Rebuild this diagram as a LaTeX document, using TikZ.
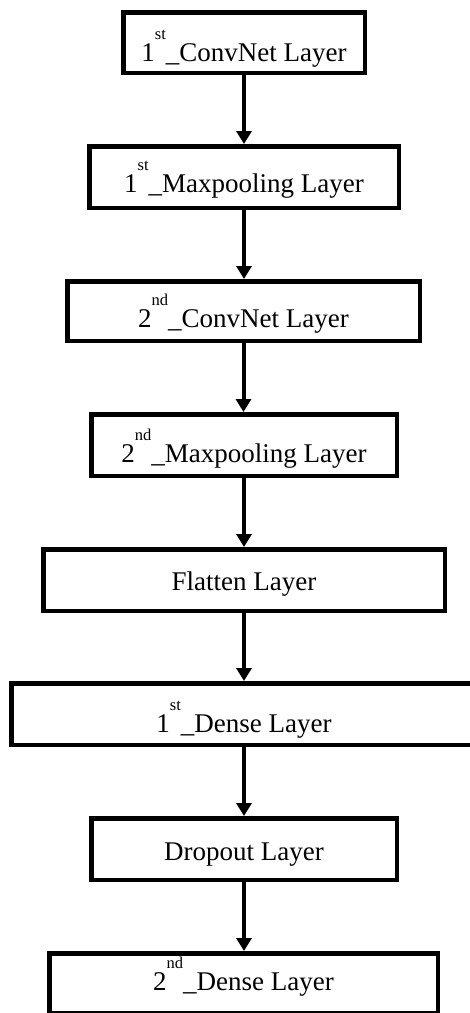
\documentclass[tikz,border=0pt]{standalone}
\usepackage{fontspec}
\setmainfont{Liberation Serif}
\usetikzlibrary{arrows.meta}
% raised ordinal suffix such as "st" or "nd"
\newcommand{\ordsup}[1]{\raisebox{22pt}{\fontsize{16.5pt}{16.5pt}\selectfont #1}}
\begin{document}
\begin{tikzpicture}[x=1pt,y=-1pt,
  layer/.style={draw=black, line width=4.5pt, rectangle, inner sep=0pt,
    font=\fontsize{27pt}{27pt}\selectfont, text depth=0pt, minimum height=61.5pt},
  flow/.style={-{Triangle[width=15pt,length=13pt]}, line width=4pt}]
\useasboundingbox (0,0) rectangle (470,1013);
\clip (0,0) rectangle (470,1013);

% layer boxes, top to bottom
\node[layer, minimum width=241.5pt, minimum height=60.5pt, text height=37pt] (conv1) at (244,42.5) {1\ordsup{st}\_ConvNet Layer};
\node[layer, minimum width=309.5pt, text height=30pt] (pool1) at (244,177) {1\ordsup{st}\_Maxpooling Layer};
\node[layer, minimum width=352.5pt, minimum height=59.5pt, text height=32pt] (conv2) at (243.5,311) {2\ordsup{nd}\_ConvNet Layer};
\node[layer, minimum width=305.5pt, text height=34pt] (pool2) at (244,445) {2\ordsup{nd}\_Maxpooling Layer};
\node[layer, minimum width=401.5pt, text height=20pt] (flat) at (244,580) {Flatten Layer};
\node[layer, minimum width=465.5pt, text height=36pt] (dense1) at (244,714) {1\ordsup{st}\_Dense Layer};
\node[layer, minimum width=305.5pt, text height=22pt] (drop) at (244,849) {Dropout Layer};
\node[layer, minimum width=388.5pt, minimum height=59.5pt, text height=14pt] (dense2) at (243.5,983) {2\ordsup{nd}\_Dense Layer};

% connectors
\draw[flow] (conv1.south) -- (conv1.south |- pool1.north);
\draw[flow] (pool1.south) -- (pool1.south |- conv2.north);
\draw[flow] (conv2.south) -- (conv2.south |- pool2.north);
\draw[flow] (pool2.south) -- (pool2.south |- flat.north);
\draw[flow] (flat.south) -- (flat.south |- dense1.north);
\draw[flow] (dense1.south) -- (dense1.south |- drop.north);
\draw[flow] (drop.south) -- (drop.south |- dense2.north);
\end{tikzpicture}
\end{document}
